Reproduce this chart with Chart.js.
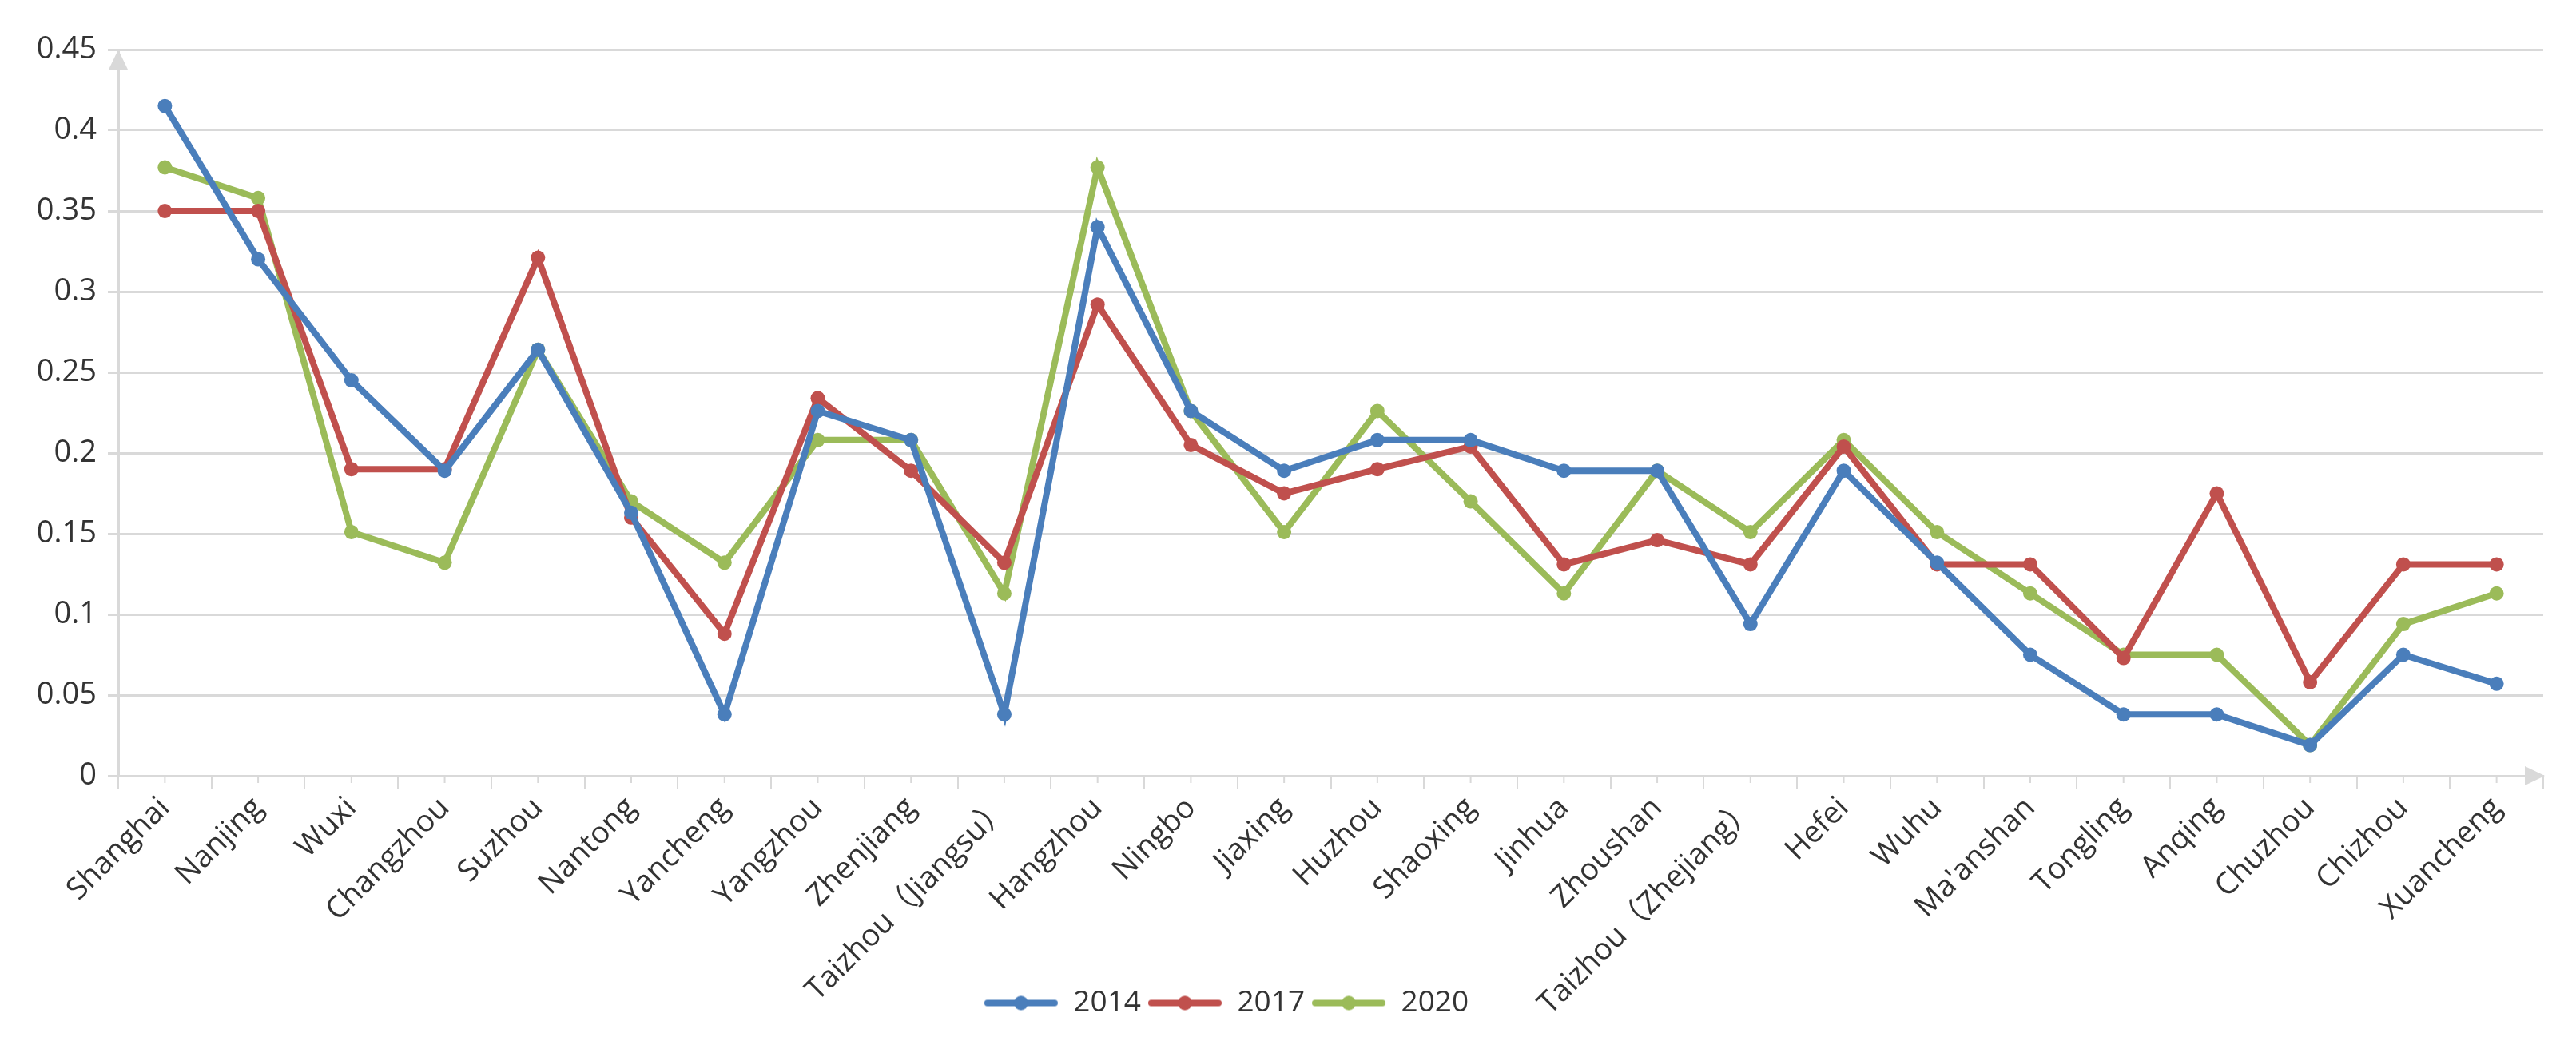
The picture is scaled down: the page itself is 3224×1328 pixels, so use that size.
<!DOCTYPE html>
<html>
<head>
<meta charset="utf-8">
<script src="https://cdn.jsdelivr.net/npm/chart.js@4.4.1/dist/chart.umd.min.js"></script>
<style>
    html, body { margin: 0; padding: 0; background: #fff; }
    #wrap { width: 3224px; height: 1328px; }
</style>
</head>
<body>
<div id="wrap"><canvas id="grafico"></canvas></div>
<script>
const cities = ['Shanghai', 'Nanjing', 'Wuxi', 'Changzhou', 'Suzhou', 'Nantong', 'Yancheng', 'Yangzhou',
    'Zhenjiang', 'Taizhou（Jiangsu）', 'Hangzhou', 'Ningbo', 'Jiaxing', 'Huzhou', 'Shaoxing', 'Jinhua',
    'Zhoushan', 'Taizhou（Zhejiang）', 'Hefei', 'Wuhu', "Ma'anshan", 'Tongling', 'Anqing', 'Chuzhou',
    'Chizhou', 'Xuancheng'];
const years = ['2014', '2017', '2020'];
const v2014 = [0.415, 0.320, 0.245, 0.189, 0.264, 0.163, 0.038, 0.226, 0.208, 0.038, 0.340, 0.226, 0.189,
    0.208, 0.208, 0.189, 0.189, 0.094, 0.189, 0.132, 0.075, 0.038, 0.038, 0.019, 0.075, 0.057];
const v2017 = [0.350, 0.350, 0.190, 0.190, 0.321, 0.160, 0.088, 0.234, 0.189, 0.132, 0.292, 0.205, 0.175,
    0.190, 0.204, 0.131, 0.146, 0.131, 0.204, 0.131, 0.131, 0.073, 0.175, 0.058, 0.131, 0.131];
const v2020 = [0.377, 0.358, 0.151, 0.132, 0.264, 0.170, 0.132, 0.208, 0.208, 0.113, 0.377, 0.226, 0.151,
    0.226, 0.170, 0.113, 0.189, 0.151, 0.208, 0.151, 0.113, 0.075, 0.075, 0.019, 0.094, 0.113];
const yTicks = [0, 0.05, 0.1, 0.15, 0.2, 0.25, 0.3, 0.35, 0.4, 0.45];

const colors = ['#4A7EBB', '#C0504D', '#9BBB59'];
const axisGray = '#d9d9d9';
const textColor = '#333333';
const fontFam = '"Open Sans", "Noto Sans CJK SC", sans-serif';

// legend marker: line with a dot in the middle, like Excel
function marcador(cor) {
    const c = document.createElement('canvas');
    c.width = 94; c.height = 22;
    const g = c.getContext('2d');
    g.strokeStyle = cor; g.lineWidth = 8; g.lineCap = 'round';
    g.beginPath(); g.moveTo(5, 11); g.lineTo(89, 11); g.stroke();
    g.fillStyle = cor;
    g.beginPath(); g.arc(47, 11, 9, 0, Math.PI * 2); g.fill();
    return c;
}

const setas = {
    id: 'setas',
    afterLayout(chart) {
        chart.legend.left -= 57;
        chart.legend.right -= 57;
    },
    afterDraw(chart) {
        const a = chart.chartArea;
        const ctx = chart.ctx;
        const x = chart.scales.x;
        ctx.save();
        // short ticks at category centres
        ctx.strokeStyle = axisGray;
        ctx.lineWidth = 2;
        cities.forEach(function(c, i) {
            const px = x.getPixelForValue(i);
            ctx.beginPath(); ctx.moveTo(px, a.bottom); ctx.lineTo(px, a.bottom + 9); ctx.stroke();
        });
        ctx.fillStyle = axisGray;
        ctx.beginPath();
        ctx.moveTo(a.left, a.top);
        ctx.lineTo(a.left - 12, a.top + 25);
        ctx.lineTo(a.left + 12, a.top + 25);
        ctx.fill();
        ctx.beginPath();
        ctx.moveTo(a.right + 2, a.bottom);
        ctx.lineTo(a.right - 23, a.bottom - 12);
        ctx.lineTo(a.right - 23, a.bottom + 12);
        ctx.fill();
        ctx.restore();
    }
};

const datasets = [v2014, v2017, v2020].map(function(vals, i) {
    return {
        label: years[i],
        data: vals,
        borderColor: colors[i],
        backgroundColor: colors[i],
        borderWidth: 8,
        pointRadius: 9,
        pointBorderWidth: 0,
        pointStyle: 'circle',
        tension: 0
    };
});

new Chart(document.getElementById('grafico').getContext('2d'), {
    type: 'line',
    data: { labels: cities, datasets: datasets },
    options: {
        responsive: true,
        maintainAspectRatio: false,
        animation: false,
        layout: { padding: { left: 0, right: 41, top: 62, bottom: 44 } },
        plugins: {
            tooltip: { enabled: false },
            legend: {
                position: 'bottom',
                labels: {
                    usePointStyle: true,
                    pointStyleWidth: 94,
                    padding: 8,
                    color: textColor,
                    font: { family: fontFam, size: 37 },
                    generateLabels: function(chart) {
                        return chart.data.datasets.map(function(ds, i) {
                            return {
                                text: ds.label, datasetIndex: i, lineWidth: 0,
                                pointStyle: marcador(colors[i]), fontColor: textColor
                            };
                        });
                    }
                }
            }
        },
        scales: {
            x: {
                offset: true,
                grid: { display: true, drawOnChartArea: false, offset: true, color: axisGray, lineWidth: 2, tickLength: 16 },
                border: { color: axisGray, width: 3 },
                ticks: {
                    autoSkip: false, minRotation: 45, maxRotation: 45, padding: 2,
                    color: textColor, font: { family: fontFam, size: 38 }
                },
                afterFit: function(s) {
                    s.height = 258;
                    // let the long rotated labels run past the axis box
                    s._computeLabelArea = function() { return undefined; };
                }
            },
            y: {
                min: 0, max: 0.45,
                afterBuildTicks: function(s) { s.ticks = yTicks.map(v => ({ value: v })); },
                grid: { color: axisGray, lineWidth: 3, tickLength: 13 },
                border: { color: axisGray, width: 3 },
                ticks: {
                    padding: 14, color: textColor, font: { family: fontFam, size: 38 },
                    callback: function(v) { return String(Math.round(v * 100) / 100); }
                },
                afterFit: function(s) { s.width = 148; }
            }
        }
    },
    plugins: [setas]
});
</script>
</body>
</html>
